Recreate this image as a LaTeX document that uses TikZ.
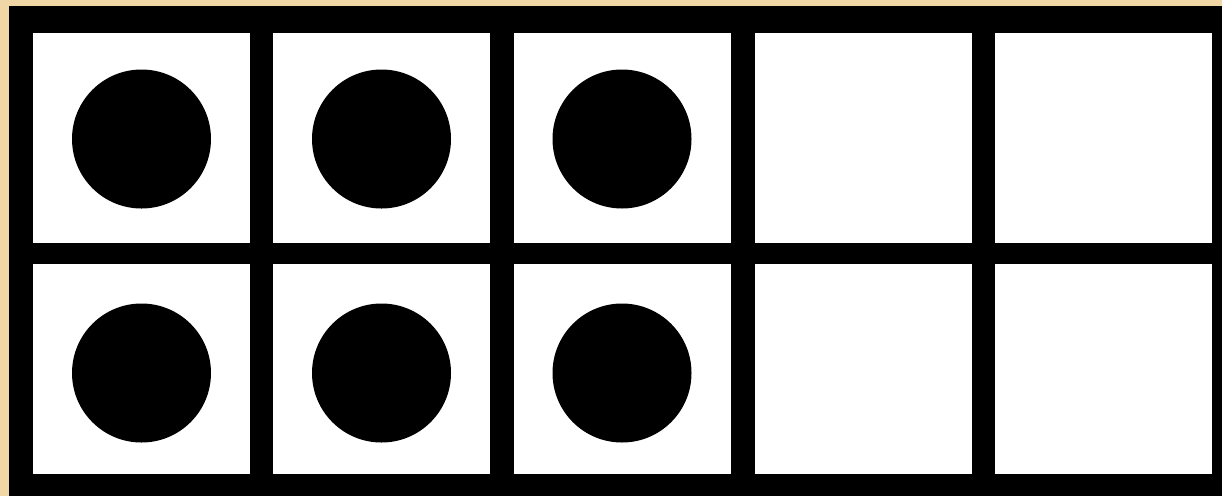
\documentclass[tikz,border=0pt]{standalone}
\definecolor{parch}{HTML}{F2D7A6}
\definecolor{cellw}{HTML}{FFFFFF}
\begin{document}
\begin{tikzpicture}[x=1pt,y=-1pt,
  cellbox/.style={fill=cellw,draw=none},
  counter/.style={circle,fill=black,minimum size=139pt,inner sep=0pt}]
\useasboundingbox (0,0) rectangle (1222,496);
\fill[parch] (0,0) rectangle (1222,496);
\fill[black] (9,6) rectangle (1222,496);
\foreach \x [count=\i] in {33,273,514,755,995}{
  \foreach \y [count=\j] in {33,264}{
    \fill[cellbox] (\x,\y) rectangle ++(217,210);
  }
}
\node[counter] (c11) at (141.5,139) {};
\node[counter] (c12) at (381.5,139) {};
\node[counter] (c13) at (622,139) {};
\node[counter] (c21) at (141.5,373) {};
\node[counter] (c22) at (381.5,373) {};
\node[counter] (c23) at (622,373) {};
\end{tikzpicture}
\end{document}
